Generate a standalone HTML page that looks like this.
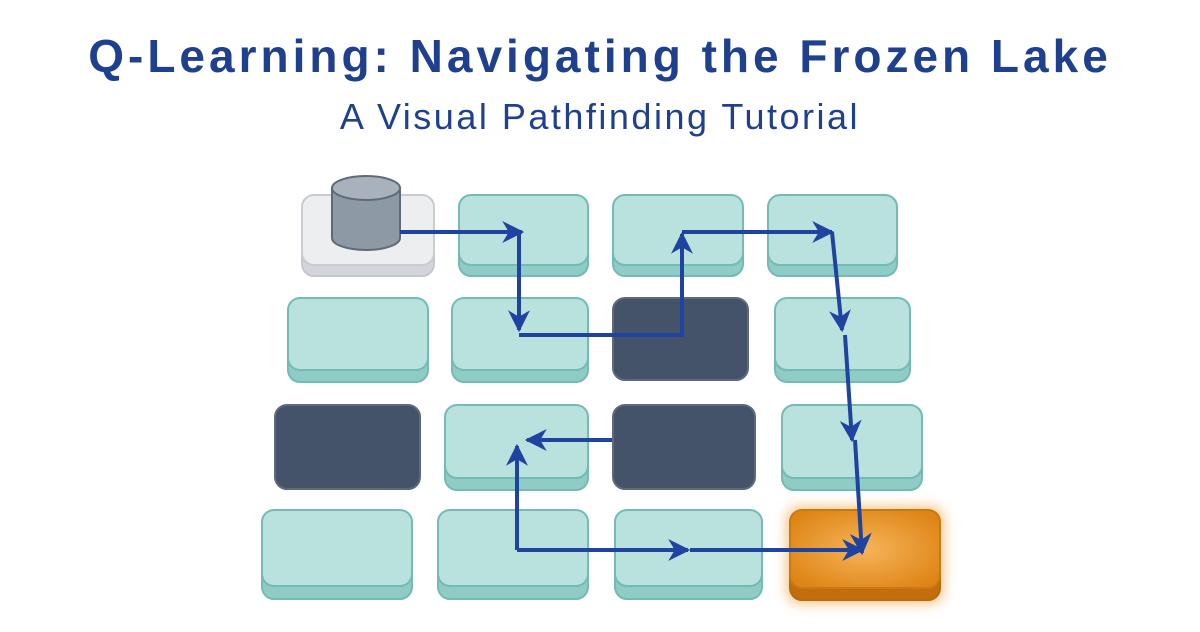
<!DOCTYPE html>
<html><head><meta charset="utf-8"><style>
body{margin:0;width:1200px;height:627px;background:#fff;overflow:hidden;font-family:"Liberation Sans",sans-serif}
</style></head><body>
<svg width="1200" height="627" viewBox="0 0 1200 627" xmlns="http://www.w3.org/2000/svg">
<defs>
<radialGradient id="og" cx="0.5" cy="0.5" r="0.6"><stop offset="0" stop-color="#f6b45a"/><stop offset="1" stop-color="#de8516"/></radialGradient>
<marker id="ah" viewBox="0 0 10 10" refX="9" refY="5" markerWidth="5.5" markerHeight="5.5" orient="auto-start-reverse" markerUnits="strokeWidth"><path d="M0,0 L10,5 L0,10 L3,5 z" fill="#1f43a0"/></marker>
<filter id="glow" x="-30%" y="-30%" width="160%" height="160%"><feGaussianBlur stdDeviation="6"/></filter>
</defs>
<text x="600" y="72" text-anchor="middle" font-size="46" font-weight="bold" letter-spacing="4" fill="#1f3f8f">Q-Learning: Navigating the Frozen Lake</text>
<text x="600" y="129" text-anchor="middle" font-size="36" letter-spacing="2.5" fill="#1f3f8f">A Visual Pathfinding Tutorial</text>
<g stroke-width="2">
<rect x="302" y="200" width="132" height="76" rx="12" fill="#d2d6da" stroke="#c4c8cc"/>
<rect x="302" y="195" width="132" height="70" rx="12" fill="#eceef0" stroke="#c8ccd0"/>
<rect x="459" y="200" width="129" height="76" rx="12" fill="#8fccc6" stroke="#73bbb4"/>
<rect x="459" y="195" width="129" height="70" rx="12" fill="#b9e1de" stroke="#73bbb4"/>
<rect x="613" y="200" width="130" height="76" rx="12" fill="#8fccc6" stroke="#73bbb4"/>
<rect x="613" y="195" width="130" height="70" rx="12" fill="#b9e1de" stroke="#73bbb4"/>
<rect x="768" y="200" width="129" height="76" rx="12" fill="#8fccc6" stroke="#73bbb4"/>
<rect x="768" y="195" width="129" height="70" rx="12" fill="#b9e1de" stroke="#73bbb4"/>
<rect x="288" y="304" width="140" height="78" rx="12" fill="#8fccc6" stroke="#73bbb4"/>
<rect x="288" y="298" width="140" height="72" rx="12" fill="#b9e1de" stroke="#73bbb4"/>
<rect x="452" y="304" width="136" height="78" rx="12" fill="#8fccc6" stroke="#73bbb4"/>
<rect x="452" y="298" width="136" height="72" rx="12" fill="#b9e1de" stroke="#73bbb4"/>
<rect x="613" y="298" width="135" height="82" rx="12" fill="#44536a" stroke="#5c6a7e"/>
<rect x="775" y="304" width="135" height="78" rx="12" fill="#8fccc6" stroke="#73bbb4"/>
<rect x="775" y="298" width="135" height="72" rx="12" fill="#b9e1de" stroke="#73bbb4"/>
<rect x="275" y="405" width="145" height="84" rx="12" fill="#44536a" stroke="#5c6a7e"/>
<rect x="445" y="411" width="143" height="79" rx="12" fill="#8fccc6" stroke="#73bbb4"/>
<rect x="445" y="405" width="143" height="73" rx="12" fill="#b9e1de" stroke="#73bbb4"/>
<rect x="613" y="405" width="142" height="84" rx="12" fill="#44536a" stroke="#5c6a7e"/>
<rect x="782" y="411" width="140" height="79" rx="12" fill="#8fccc6" stroke="#73bbb4"/>
<rect x="782" y="405" width="140" height="73" rx="12" fill="#b9e1de" stroke="#73bbb4"/>
<rect x="262" y="517" width="150" height="82" rx="12" fill="#8fccc6" stroke="#73bbb4"/>
<rect x="262" y="510" width="150" height="76" rx="12" fill="#b9e1de" stroke="#73bbb4"/>
<rect x="438" y="517" width="150" height="82" rx="12" fill="#8fccc6" stroke="#73bbb4"/>
<rect x="438" y="510" width="150" height="76" rx="12" fill="#b9e1de" stroke="#73bbb4"/>
<rect x="615" y="517" width="147" height="82" rx="12" fill="#8fccc6" stroke="#73bbb4"/>
<rect x="615" y="510" width="147" height="76" rx="12" fill="#b9e1de" stroke="#73bbb4"/>
<rect x="786" y="506" width="158" height="98" rx="14" fill="#f6c68a" filter="url(#glow)" stroke="none"/>
<rect x="790" y="515" width="150" height="85" rx="12" fill="#c46d0c" stroke="#b86a10"/>
<rect x="790" y="510" width="150" height="78" rx="12" fill="url(#og)" stroke="#c9790f"/>
</g>
<path d="M332,188 L332,238 A34,12 0 0 0 400,238 L400,188 Z" fill="#8e99a6" stroke="#5f6b78" stroke-width="2"/>
<ellipse cx="366" cy="188" rx="34" ry="12" fill="#a9b2bc" stroke="#5f6b78" stroke-width="2"/>
<g stroke="#1f43a0" stroke-width="4" fill="none">
<path d="M400,232 L522,232" marker-end="url(#ah)"/>
<path d="M519,232 L519,330" marker-end="url(#ah)"/>
<path d="M519,335 L682,335 L682,234" marker-end="url(#ah)"/>
<path d="M682,232 L832,232" marker-end="url(#ah)"/>
<path d="M832,232 L842,330" marker-end="url(#ah)"/>
<path d="M845,335 L852,440" marker-end="url(#ah)"/>
<path d="M855,440 L862,553" marker-end="url(#ah)"/>
<path d="M612,440 L527,440" marker-end="url(#ah)"/>
<path d="M517,550 L517,446" marker-end="url(#ah)"/>
<path d="M517,550 L688,550" marker-end="url(#ah)"/>
<path d="M690,550 L862,550" marker-end="url(#ah)"/>
</g>
</svg>
</body></html>
